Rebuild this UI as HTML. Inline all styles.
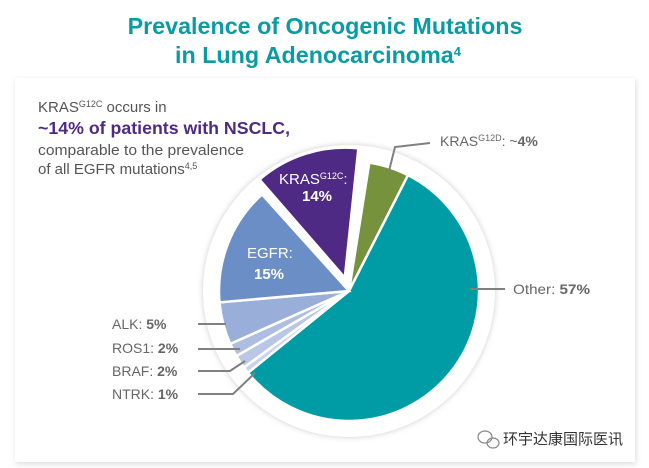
<!DOCTYPE html><html><head><style>body{margin:0;background:#fff;}svg{display:block}text{font-family:"Liberation Sans",Arial,sans-serif}</style></head><body>
<svg width="649" height="468" viewBox="0 0 649 468" xmlns="http://www.w3.org/2000/svg">
<defs>
<filter id="sh" x="-10%" y="-10%" width="120%" height="120%"><feGaussianBlur stdDeviation="3"/></filter>
</defs>
<text x="325" y="34" text-anchor="middle" font-size="23.3" font-weight="bold" fill="#0A9BA3">Prevalence of Oncogenic Mutations</text>
<text x="318" y="63" text-anchor="middle" font-size="23.3" font-weight="bold" fill="#0A9BA3">in Lung Adenocarcinoma<tspan font-size="13" dy="-7">4</tspan></text>
<rect x="16" y="80" width="620" height="384" fill="#ddd" filter="url(#sh)"/>
<rect x="15" y="78" width="620" height="384" fill="#fff"/>
<circle cx="349" cy="291" r="146" fill="#ccc" filter="url(#sh)"/>
<circle cx="349" cy="291" r="146" fill="#fff"/>
<g stroke="#fff" stroke-width="2.5" id="pie"></g>
<text x="38" y="112" font-size="15" fill="#555">KRAS<tspan font-size="9" dy="-5">G12C</tspan><tspan dy="5"> occurs in</tspan></text>
<text x="38" y="134" font-size="17.5" font-weight="bold" fill="#4F2A84" textLength="252" lengthAdjust="spacingAndGlyphs">~14% of patients with NSCLC,</text>
<text x="38" y="155" font-size="15" fill="#555" textLength="206" lengthAdjust="spacingAndGlyphs">comparable to the prevalence</text>
<text x="38" y="174" font-size="15" fill="#555">of all EGFR mutations<tspan font-size="9" dy="-5">4,5</tspan></text>
<g fill="none" stroke="#808080" stroke-width="2">
<polyline points="389,171 395,147 430,143"/>
<line x1="470" y1="289" x2="505" y2="289"/>
<line x1="198" y1="324" x2="226" y2="324"/>
<line x1="198" y1="349" x2="240" y2="349"/>
<polyline points="198,371 230,371 245,361"/>
<polyline points="198,394 233,394 255,373"/>
</g>
<text x="440" y="146" font-size="14" fill="#666">KRAS<tspan font-size="9" dy="-5">G12D</tspan><tspan dy="5">: ~</tspan><tspan font-weight="bold">4%</tspan></text>
<text x="513" y="294" font-size="14" fill="#666" textLength="77" lengthAdjust="spacingAndGlyphs">Other: <tspan font-weight="bold">57%</tspan></text>
<text x="112" y="329" font-size="14" fill="#666">ALK: <tspan font-weight="bold">5%</tspan></text>
<text x="112" y="353" font-size="14" fill="#666">ROS1: <tspan font-weight="bold">2%</tspan></text>
<text x="112" y="376" font-size="14" fill="#666">BRAF: <tspan font-weight="bold">2%</tspan></text>
<text x="112" y="399" font-size="14" fill="#666">NTRK: <tspan font-weight="bold">1%</tspan></text>
<text x="247" y="258" font-size="15" fill="#fff">EGFR:</text>
<text x="254" y="279" font-size="15" font-weight="bold" fill="#fff">15%</text>
<text x="279" y="184" font-size="15" fill="#fff">KRAS<tspan font-size="9" dy="-5">G12C</tspan><tspan dy="5">:</tspan></text>
<text x="302" y="201" font-size="15" font-weight="bold" fill="#fff">14%</text>
<g fill="none" stroke="#888" stroke-width="1.2">
<ellipse cx="485" cy="437" rx="7" ry="6"/><ellipse cx="493" cy="443" rx="6" ry="5"/>
</g>
<text x="503" y="444" font-size="15" fill="#333" font-family="'Noto Sans CJK SC',sans-serif">环宇达康国际医讯</text>
<script>
var g=document.getElementById('pie');
function P(cx,cy,r,a){a=a*Math.PI/180;return [cx+r*Math.sin(a),cy-r*Math.cos(a)];}
function sl(a0,a1,c,ex){var m=(a0+a1)/2*Math.PI/180;var cx=349+ex*Math.sin(m),cy=291-ex*Math.cos(m),r=130;
var p0=P(cx,cy,r,a0),p1=P(cx,cy,r,a1);var large=(a1-a0)>180?1:0;
var e=document.createElementNS('http://www.w3.org/2000/svg','path');
e.setAttribute('d','M'+cx+','+cy+'L'+p0+'A'+r+','+r+' 0 '+large+' 1 '+p1+'Z');e.setAttribute('fill',c);g.appendChild(e);}
sl(9,27,'#76923C',0);sl(27,231,'#009CA6',0);sl(231,234,'#C9D3EC',0);sl(234,240,'#BAC6E6',0);sl(240,246,'#AEBDE2',0);sl(246,265,'#9AAEDA',0);sl(265,318,'#6C8EC6',0);sl(319,366,'#4F2A84',14);
</script>
</svg></body></html>
